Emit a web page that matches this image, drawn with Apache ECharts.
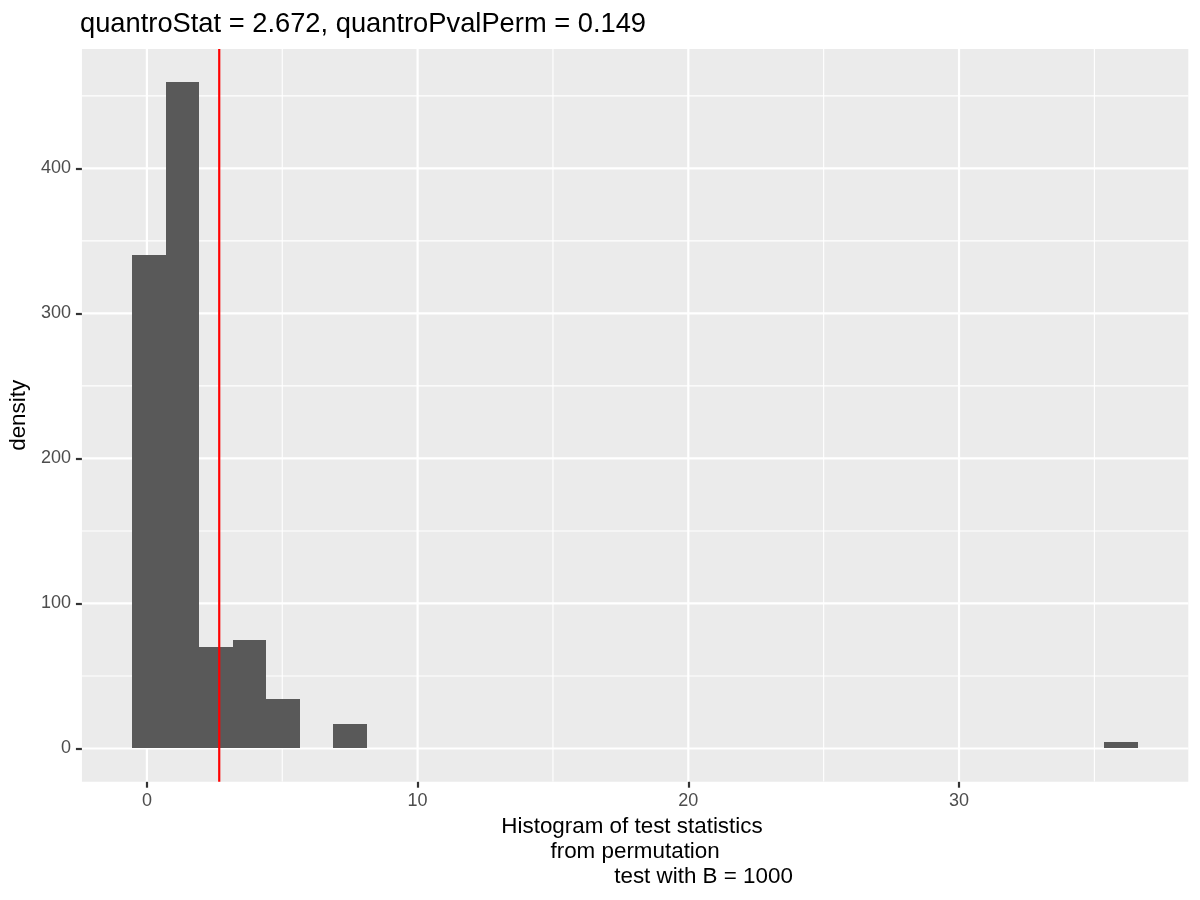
<!DOCTYPE html>
<html>
<head>
<meta charset="utf-8">
<script src="https://cdn.jsdelivr.net/npm/echarts@6/dist/echarts.min.js"></script>
<style>
html,body{margin:0;padding:0;background:#fff;}
#chart{width:1200px;height:900px;}
</style>
</head>
<body>
<div id="chart"></div>
<script>
// Histogram bins (non-empty ones)
const binLeft  = [-0.54, 0.70, 1.94, 3.17, 4.41, 6.89, 35.37];
const binRight = [ 0.70, 1.94, 3.17, 4.41, 5.65, 8.13, 36.61];
const density  = [340, 459.5, 70, 74.8, 34.1, 16.9, 4.4];

// observed statistic (red vertical line)
const quantroStat = 2.672;
const quantroPvalPerm = 0.149;

// tick labels and grid lines
const xTicks = [0, 10, 20, 30];
const xMinor = [5, 15, 25, 35];
const yTicks = [0, 100, 200, 300, 400];
const yMinor = [50, 150, 250, 350, 450];

const FONT = 'Liberation Sans, Arial, Helvetica, sans-serif';

const gridLineData = []
  .concat(xMinor.map(v => [v, 0, 1.1]))
  .concat(yMinor.map(v => [v, 1, 1.1]))
  .concat(xTicks.map(v => [v, 0, 2.2]))
  .concat(yTicks.map(v => [v, 1, 2.2]));

const histData = binLeft.map((l, i) => [l, binRight[i], density[i]]);

const chart = echarts.init(document.getElementById('chart'), null, {renderer: 'canvas'});

chart.setOption({
  animation: false,
  backgroundColor: '#ffffff',
  title: {
    text: 'quantroStat = ' + quantroStat.toFixed(3) + ', quantroPvalPerm = ' + quantroPvalPerm.toFixed(3),
    left: 75,
    top: 6,
    textStyle: {fontFamily: FONT, fontSize: 27.3, fontWeight: 'normal', color: '#000000'}
  },
  grid: {
    left: 80.7, right: 11.7, top: 49, bottom: 118.3,
    show: true, backgroundColor: '#EBEBEB', borderWidth: 0
  },
  xAxis: {
    type: 'value',
    min: -2.40, max: 38.47,
    axisLine: {show: false, onZero: false},
    splitLine: {show: false},
    axisTick: {show: true, customValues: xTicks, length: 6, lineStyle: {color: '#333333', width: 2.2}},
    axisLabel: {customValues: xTicks, color: '#4D4D4D', fontSize: 18, fontFamily: FONT, margin: 10},
    name: 'Histogram of test statistics \nfrom permutation\n                      test with B = 1000',
    nameLocation: 'middle',
    nameGap: 33,
    nameTextStyle: {fontFamily: FONT, fontSize: 22.4, color: '#000000', lineHeight: 24.8, align: 'center'}
  },
  yAxis: {
    type: 'value',
    min: -22.9, max: 482.3,
    axisLine: {show: false, onZero: false},
    splitLine: {show: false},
    axisTick: {show: true, customValues: yTicks, length: 6, lineStyle: {color: '#333333', width: 2.2}},
    axisLabel: {customValues: yTicks, color: '#4D4D4D', fontSize: 18, fontFamily: FONT, margin: 11},
    name: 'density',
    nameLocation: 'middle',
    nameGap: 38,
    nameTextStyle: {fontFamily: FONT, fontSize: 22.4, color: '#000000'}
  },
  series: [
    {
      type: 'custom',
      name: 'grid',
      silent: true,
      z: 1,
      clip: true,
      data: gridLineData,
      renderItem: function (params, api) {
        const cs = params.coordSys;
        const v = api.value(0), orient = api.value(1), w = api.value(2);
        let shape;
        if (orient === 0) {
          const p = api.coord([v, 0]);
          shape = {x1: p[0], y1: cs.y, x2: p[0], y2: cs.y + cs.height};
        } else {
          const p = api.coord([0, v]);
          shape = {x1: cs.x, y1: p[1], x2: cs.x + cs.width, y2: p[1]};
        }
        return {type: 'line', shape: shape, style: {stroke: '#FFFFFF', lineWidth: w}};
      }
    },
    {
      type: 'custom',
      name: 'histogram',
      silent: true,
      z: 2,
      data: histData,
      renderItem: function (params, api) {
        const p0 = api.coord([api.value(0), 0]);
        const p1 = api.coord([api.value(1), api.value(2)]);
        const x0 = Math.round(p0[0]), x1 = Math.round(p1[0]);
        const y0 = Math.round(p0[1]), y1 = Math.round(p1[1]);
        return {
          type: 'rect',
          shape: {x: x0, y: y1, width: x1 - x0, height: y0 - y1},
          style: {fill: '#595959'}
        };
      }
    },
    {
      type: 'custom',
      name: 'stat',
      silent: true,
      z: 3,
      data: [[quantroStat]],
      renderItem: function (params, api) {
        const cs = params.coordSys;
        const p = api.coord([api.value(0), 0]);
        return {
          type: 'line',
          shape: {x1: p[0], y1: cs.y, x2: p[0], y2: cs.y + cs.height},
          style: {stroke: '#FF0000', lineWidth: 2.2}
        };
      }
    }
  ]
});
</script>
</body>
</html>
